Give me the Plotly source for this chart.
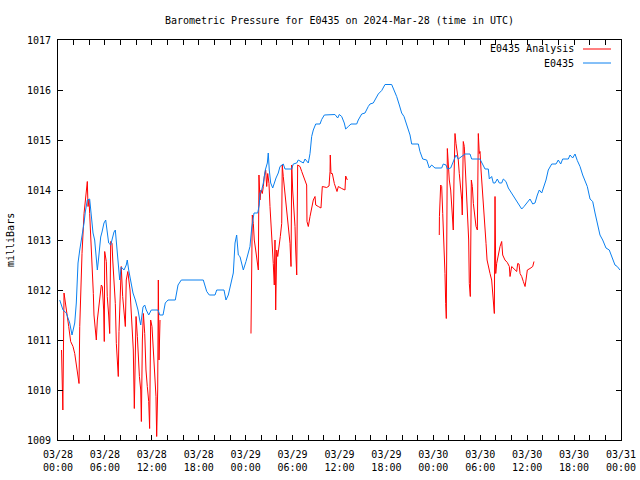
import pandas as pd
import plotly.graph_objects as go

# ---- data (hours after 2024-03-28 00:00 UTC, pressure in mbar) ----
obs_hours = [0.22, 0.64, 1.06, 1.50, 1.79, 2.14, 2.34, 2.56, 2.78, 3.07, 3.33, 3.49, 3.75, 4.05, 4.26,
             4.48, 4.69, 4.90, 5.03, 5.21, 5.46, 5.63, 5.88, 6.10, 6.30, 6.48, 6.74, 6.91, 7.16, 7.33,
             7.58, 7.76, 7.89, 8.09, 8.44, 8.73, 8.86, 9.04, 9.30, 9.59, 9.89, 10.23, 10.45, 10.58,
             10.87, 11.09, 11.29, 11.60, 11.93, 12.79, 13.01, 13.43, 13.72, 14.07, 15.00, 15.35, 15.77,
             18.58, 19.02, 19.35, 20.08, 20.30, 21.23, 21.48, 21.78, 22.09, 22.42, 22.64, 22.85, 22.93,
             23.06, 23.27, 23.49, 23.70, 24.04, 24.34, 24.55, 24.77, 24.90, 25.07, 25.54, 25.74, 25.83,
             26.05, 26.26, 26.34, 26.51, 26.77, 26.89, 27.02, 27.20, 27.46, 27.66, 27.88, 28.17, 28.39,
             28.81, 29.03, 29.89, 30.09, 30.53, 30.73, 31.37, 31.59, 32.01, 32.23, 32.44, 32.65, 32.96,
             33.51, 33.72, 34.06, 35.42, 35.77, 35.97, 36.28, 36.61, 36.79, 37.13, 37.47, 38.20, 38.40,
             38.84, 39.26, 39.68, 39.90, 40.32, 40.67, 40.96, 41.40, 41.82, 42.67, 42.97, 43.31, 43.65,
             43.95, 44.25, 44.50, 44.80, 45.02, 45.23, 46.08, 46.29, 46.64, 47.15, 47.48, 47.79, 48.21,
             49.07, 49.27, 49.62, 49.79, 50.22, 50.55, 50.90, 51.19, 52.05, 52.69, 52.90, 53.96, 54.31,
             54.61, 55.03, 55.16, 55.46, 55.67, 55.89, 56.18, 56.44, 56.74, 56.95, 57.29, 57.59, 58.02,
             58.44, 58.87, 59.30, 59.60, 59.94, 60.36, 60.71, 61.00, 61.30, 61.55, 61.86, 62.15, 62.41,
             62.70, 63.01, 63.14, 63.69, 63.98, 64.29, 64.54, 65.26, 65.48, 65.82, 66.12, 66.41, 66.76,
             67.10, 67.40, 67.69, 68.04, 68.38, 68.68, 69.10, 69.31, 69.66, 70.08, 70.50, 70.94, 71.23,
             71.52, 71.87]
obs_mbar = [1011.80, 1011.60, 1011.54, 1011.34, 1011.10, 1011.34, 1011.74, 1012.54, 1012.80, 1013.06,
            1013.34, 1013.56, 1013.80, 1013.82, 1013.46, 1013.14, 1013.00, 1012.60, 1012.40, 1012.66,
            1013.06, 1013.16, 1013.34, 1013.40, 1013.20, 1012.94, 1012.90, 1013.00, 1013.16, 1013.20,
            1012.80, 1012.40, 1012.20, 1012.46, 1012.40, 1012.50, 1012.60, 1012.40, 1012.14, 1011.94,
            1011.80, 1011.60, 1011.40, 1011.30, 1011.66, 1011.70, 1011.60, 1011.50, 1011.60, 1011.60,
            1011.50, 1011.50, 1011.74, 1011.80, 1011.80, 1012.10, 1012.20, 1012.20, 1011.97, 1011.90,
            1011.90, 1012.00, 1012.00, 1011.80, 1011.90, 1012.14, 1012.34, 1012.94, 1013.10, 1012.94,
            1012.70, 1012.67, 1012.50, 1012.40, 1012.57, 1012.74, 1012.87, 1013.24, 1013.40, 1013.54,
            1013.54, 1013.70, 1013.94, 1014.00, 1014.14, 1014.27, 1014.40, 1014.54, 1014.74, 1014.40,
            1014.14, 1014.04, 1014.14, 1014.24, 1014.34, 1014.47, 1014.52, 1014.42, 1014.42, 1014.52,
            1014.54, 1014.60, 1014.54, 1014.62, 1014.54, 1014.73, 1015.07, 1015.20, 1015.32, 1015.32,
            1015.41, 1015.50, 1015.51, 1015.44, 1015.51, 1015.47, 1015.34, 1015.22, 1015.27, 1015.32,
            1015.32, 1015.40, 1015.52, 1015.54, 1015.67, 1015.72, 1015.74, 1015.84, 1015.92, 1015.99,
            1016.11, 1016.11, 1016.00, 1015.87, 1015.70, 1015.54, 1015.47, 1015.34, 1015.20, 1015.10,
            1014.92, 1014.92, 1014.77, 1014.62, 1014.60, 1014.44, 1014.50, 1014.44, 1014.44, 1014.52,
            1014.50, 1014.42, 1014.44, 1014.57, 1014.70, 1014.62, 1014.72, 1014.72, 1014.62, 1014.62,
            1014.50, 1014.42, 1014.42, 1014.22, 1014.27, 1014.14, 1014.14, 1014.22, 1014.14, 1014.14,
            1014.22, 1014.17, 1014.04, 1013.94, 1013.84, 1013.74, 1013.62, 1013.67, 1013.74, 1013.82,
            1013.72, 1013.74, 1013.90, 1014.00, 1013.94, 1014.06, 1014.20, 1014.40, 1014.50, 1014.52,
            1014.52, 1014.60, 1014.52, 1014.62, 1014.62, 1014.70, 1014.64, 1014.72, 1014.59, 1014.47,
            1014.30, 1014.17, 1014.07, 1013.82, 1013.77, 1013.54, 1013.20, 1013.10, 1013.00, 1012.84,
            1012.80, 1012.64, 1012.50, 1012.47, 1012.40]

ana_hours_1 = [0.45, 0.62, 0.77, 0.93, 1.06, 1.19, 1.37, 1.62, 1.92, 2.14, 2.34, 2.56, 2.69, 2.78, 2.90,
               3.07, 3.33, 3.49, 3.62, 3.75, 3.84, 3.97, 4.05, 4.18, 4.26, 4.39, 4.52, 4.60, 4.77, 4.90,
               5.03, 5.21, 5.37, 5.54, 5.67, 5.84, 5.92, 5.97, 6.18, 6.30, 6.48, 6.61, 6.74, 6.91, 7.00,
               7.16, 7.33, 7.46, 7.58, 7.71, 7.80, 7.93, 8.09, 8.27, 8.44, 8.61, 8.73, 8.93, 9.21, 9.34,
               9.50, 9.63, 9.76, 9.85, 9.98, 10.15, 10.28, 10.41, 10.58, 10.66, 10.79, 10.92, 11.09,
               11.25, 11.42, 11.60, 11.72, 11.85, 12.02, 12.19, 12.40, 12.53, 12.62, 12.75, 12.83, 12.92,
               13.05]
ana_mbar_1 = [1010.80, 1009.60, 1011.94, 1011.77, 1011.67, 1011.47, 1011.27, 1010.97, 1010.87, 1010.73,
              1010.53, 1010.33, 1010.13, 1011.27, 1011.93, 1012.73, 1013.53, 1013.80, 1014.03, 1014.17,
              1013.67, 1013.80, 1013.53, 1013.13, 1012.73, 1012.33, 1011.93, 1011.50, 1011.13, 1011.00,
              1011.40, 1011.67, 1011.83, 1012.10, 1012.07, 1011.60, 1010.97, 1012.77, 1012.57, 1011.87,
              1011.50, 1011.13, 1012.97, 1012.93, 1012.60, 1012.13, 1011.73, 1010.93, 1010.53, 1010.27,
              1011.17, 1011.93, 1012.47, 1011.87, 1011.47, 1011.27, 1012.20, 1012.37, 1012.00, 1011.60,
              1011.20, 1010.80, 1009.63, 1010.73, 1011.47, 1011.07, 1010.53, 1010.27, 1010.00, 1009.37,
              1011.00, 1011.53, 1011.13, 1010.40, 1010.07, 1009.77, 1009.23, 1011.40, 1011.27, 1010.80,
              1010.23, 1009.87, 1009.07, 1010.00, 1012.20, 1010.60, 1011.40]

ana_hours_2 = [24.68, 24.77, 24.85, 24.98, 25.10, 25.28, 25.41, 25.54, 25.62, 25.70, 25.83, 25.96, 26.13,
               26.26, 26.38, 26.56, 26.69, 26.82, 26.98, 27.11, 27.24, 27.33, 27.46, 27.53, 27.66, 27.75,
               27.84, 27.97, 28.10, 28.26, 28.43, 28.61, 28.68, 28.81, 28.94, 29.12, 29.25, 29.38, 29.54,
               29.67, 29.80, 29.89, 30.01, 30.14, 30.31, 30.40, 30.53, 30.65, 30.95, 31.17, 31.37, 31.59,
               31.80, 31.84, 32.01, 32.23, 32.44, 32.65, 32.87, 32.96, 33.29, 33.63, 33.80, 34.36, 34.66,
               34.79, 34.82, 34.91, 35.08, 35.34, 35.68, 35.85, 36.28, 36.70, 36.79, 37.00]
ana_mbar_2 = [1011.13, 1012.20, 1013.50, 1013.33, 1013.00, 1012.80, 1012.67, 1012.53, 1012.40, 1014.30,
              1013.80, 1014.00, 1013.93, 1014.07, 1014.27, 1014.40, 1014.07, 1014.33, 1014.13, 1013.67,
              1013.33, 1013.00, 1012.90, 1012.53, 1012.10, 1013.00, 1011.60, 1012.80, 1012.67, 1012.93,
              1013.07, 1013.33, 1014.50, 1014.27, 1014.07, 1013.87, 1013.67, 1013.40, 1013.27, 1012.93,
              1012.47, 1014.50, 1014.00, 1013.67, 1013.27, 1012.80, 1012.30, 1014.50, 1014.47, 1014.37,
              1014.27, 1014.17, 1014.10, 1013.37, 1013.27, 1013.47, 1013.64, 1013.80, 1013.87, 1013.70,
              1013.67, 1013.64, 1014.07, 1014.05, 1014.08, 1014.37, 1014.70, 1014.33, 1014.33, 1014.13,
              1013.97, 1014.07, 1014.03, 1014.00, 1014.28, 1014.20]

ana_hours_3 = [48.76, 48.78, 48.94, 49.07, 49.20, 49.36, 49.49, 49.58, 49.66, 49.79, 49.91, 50.04, 50.22,
               50.35, 50.48, 50.55, 50.64, 50.77, 50.90, 51.07, 51.19, 51.32, 51.50, 51.63, 51.70, 51.83,
               51.96, 52.09, 52.22, 52.35, 52.43, 52.52, 52.60, 52.73, 52.86, 52.99, 53.12, 53.29, 53.46,
               53.63, 53.75, 53.88, 53.97, 54.10, 54.26, 54.39, 54.52, 54.65, 54.74, 54.87, 55.03, 55.25,
               55.46, 55.67, 55.80, 55.89, 55.98, 56.10, 56.31, 56.44, 56.53, 56.74, 56.87, 57.16, 57.46,
               57.72, 57.81, 58.02, 58.32, 58.66, 58.79, 58.96, 59.09, 59.30, 59.51, 59.73, 59.85, 60.02,
               60.36, 60.71, 60.87]
ana_mbar_3 = [1013.10, 1013.47, 1014.10, 1014.07, 1013.53, 1012.93, 1012.33, 1011.73, 1011.43, 1014.83,
              1014.53, 1014.20, 1014.00, 1013.73, 1013.53, 1013.20, 1014.20, 1015.13, 1014.93, 1014.73,
              1014.60, 1014.33, 1014.07, 1013.80, 1013.50, 1014.97, 1014.87, 1014.40, 1014.07, 1013.73,
              1013.33, 1013.00, 1012.13, 1011.87, 1014.20, 1014.07, 1013.73, 1013.47, 1013.27, 1013.20,
              1015.13, 1014.73, 1014.77, 1014.40, 1014.07, 1013.80, 1013.53, 1013.27, 1012.93, 1012.60,
              1012.47, 1012.33, 1012.20, 1011.87, 1011.53, 1013.87, 1012.33, 1012.53, 1012.70, 1012.80,
              1012.87, 1012.97, 1012.70, 1012.60, 1012.55, 1012.47, 1012.27, 1012.47, 1012.43, 1012.37,
              1012.53, 1012.52, 1012.33, 1012.27, 1012.17, 1012.07, 1012.20, 1012.40, 1012.43, 1012.47,
              1012.57]

tick_hours = list(range(0, 73, 2))
tick_labels = ["03/28<br>00:00", "03/28<br>06:00", "03/28<br>12:00", "03/28<br>18:00",
               "03/29<br>00:00", "03/29<br>06:00", "03/29<br>12:00", "03/29<br>18:00",
               "03/30<br>00:00", "03/30<br>06:00", "03/30<br>12:00", "03/30<br>18:00",
               "03/31<br>00:00"]

base = pd.Timestamp("2024-03-28 00:00")


def to_time(hours):
    return [base + pd.Timedelta(hours=h) for h in hours]


ana_x = to_time(ana_hours_1) + [None] + to_time(ana_hours_2) + [None] + to_time(ana_hours_3)
ana_y = ana_mbar_1 + [None] + ana_mbar_2 + [None] + ana_mbar_3

RED = "#ff0000"
BLUE = "#0a80f0"
FONT = "DejaVu Sans Mono"

fig = go.Figure()
fig.add_trace(go.Scatter(x=ana_x, y=ana_y, mode="lines", name="E0435 Analysis",
                         line=dict(color=RED, width=1), connectgaps=False))
fig.add_trace(go.Scatter(x=to_time(obs_hours), y=obs_mbar, mode="lines", name="E0435",
                         line=dict(color=BLUE, width=1)))

tickvals = to_time(tick_hours)
ticktext = [tick_labels[h // 6] if h % 6 == 0 else "" for h in tick_hours]

fig.update_layout(
    width=640, height=480,
    paper_bgcolor="white", plot_bgcolor="white",
    margin=dict(l=58, r=19, t=40, b=40, autoexpand=False),
    showlegend=False,
    font=dict(family=FONT, size=10, color="black"),
    title=dict(text="Barometric Pressure for E0435 on 2024-Mar-28 (time in UTC)",
               x=0.5, xref="paper", y=1 - 20 / 480, yref="container",
               xanchor="center", yanchor="middle",
               font=dict(family=FONT, size=10, color="black")),
    xaxis=dict(range=[base, base + pd.Timedelta(hours=72)], tickmode="array",
               tickvals=tickvals, ticktext=ticktext, ticks="inside", ticklen=5,
               tickcolor="black", showline=True, linecolor="black", linewidth=1,
               mirror="allticks", showgrid=False, zeroline=False, automargin=False,
               ticklabelstandoff=5,
               tickfont=dict(family=FONT, size=10, color="black")),
    yaxis=dict(range=[1009, 1017], dtick=1, tick0=1009, ticks="inside", ticklen=5,
               tickcolor="black", showline=True, linecolor="black", linewidth=1,
               mirror="allticks", showgrid=False, zeroline=False, automargin=False,
               ticklabelstandoff=4,
               tickfont=dict(family=FONT, size=10, color="black")),
)

# y axis label
fig.add_annotation(text="milliBars", xref="paper", yref="paper", x=(10 - 58) / 563, y=0.5,
                   textangle=-90, showarrow=False, xanchor="center", yanchor="middle",
                   font=dict(family=FONT, size=10, color="black"))

# gnuplot-style legend (text right aligned, sample to the right)
legend_items = [("E0435 Analysis", RED, 49), ("E0435", BLUE, 63)]
for label, color, py in legend_items:
    yp = (440 - py) / 400
    fig.add_annotation(text=label, xref="paper", yref="paper", x=(576 - 58) / 563, y=yp,
                       showarrow=False, xanchor="right", yanchor="middle",
                       font=dict(family=FONT, size=10, color="black"))
    fig.add_shape(type="line", xref="paper", yref="paper",
                  x0=(583 - 58) / 563, x1=(611 - 58) / 563, y0=yp, y1=yp,
                  line=dict(color=color, width=1))

fig.write_html("out.html", config={"displayModeBar": False},
               post_script="document.body.style.margin='0';")
